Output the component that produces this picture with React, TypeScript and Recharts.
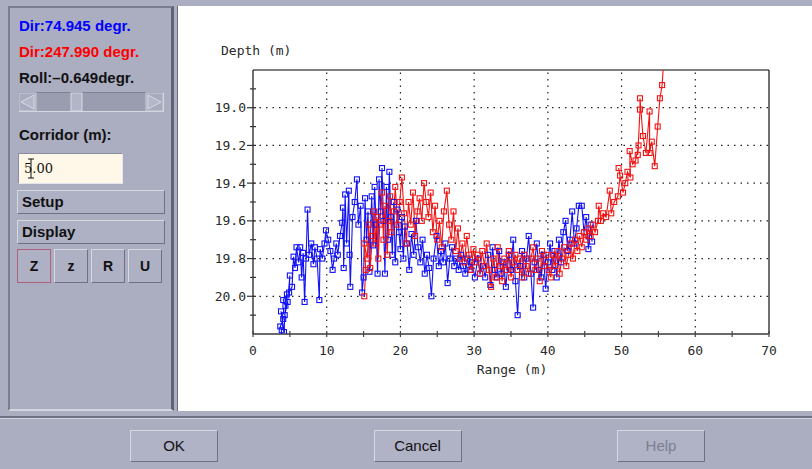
import React from 'react';
import { LineChart, Line, XAxis, YAxis, ReferenceLine } from 'recharts';

// [range (m), depth (m)] pings for each direction
const bluePings: [number, number][] = [
  [3.9,20.18],[3.7,20.16],[4.1,20.12],[3.8,20.08],[4.2,20.19],[4.4,20.05],[4.1,20.02],[4.6,19.99],[4.3,20.1],[4.7,20.03],
  [5.0,19.89],[4.9,19.98],[5.3,19.95],[5.5,19.79],[5.7,19.85],[5.9,19.74],[6.2,19.82],[6.4,19.74],[6.6,19.9],[6.8,19.77],
  [7.0,20.03],[7.2,19.8],[7.4,19.54],[7.6,19.78],[7.9,19.72],[8.2,19.83],[8.4,19.74],[8.7,19.8],[9.0,20.02],[9.1,19.75],
  [9.4,19.8],[9.7,19.72],[9.9,19.65],[10.2,19.7],[10.5,19.76],[10.8,19.86],[11.0,19.8],[11.3,19.72],[11.5,19.78],[11.8,19.68],
  [12.1,19.61],[12.2,19.53],[12.3,19.85],[12.5,19.46],[12.7,19.72],[13.0,19.44],[13.1,19.78],[13.2,19.95],[13.5,19.58],[13.8,19.5],
  [14.1,19.38],[14.3,19.62],[14.6,19.52],[14.8,19.98],[15.0,19.9],[15.2,19.48],[15.4,19.7],[15.6,19.55],[15.8,19.87],[16.1,19.47],
  [16.3,19.73],[16.5,19.42],[16.7,19.62],[16.9,19.88],[17.1,19.38],[17.3,19.55],[17.5,19.32],[17.7,19.6],[17.9,19.88],[18.1,19.42],
  [18.3,19.7],[18.5,19.34],[18.7,19.58],[18.9,19.78],[19.1,19.5],[19.3,19.82],[19.6,19.54],[19.8,19.66],[20.0,19.75],[20.2,19.58],
  [20.4,19.8],[20.6,19.63],[20.9,19.72],[21.2,19.86],[21.5,19.67],[21.8,19.78],[22.1,19.6],[22.4,19.74],[22.7,19.82],[23.0,19.7],
  [23.3,19.88],[23.6,19.78],[23.9,19.85],[24.2,20.0],[24.5,19.8],[24.9,19.68],[25.2,19.84],[25.5,19.76],[25.8,19.82],[26.1,19.72],
  [26.4,19.93],[26.7,19.8],[27.0,19.74],[27.3,19.84],[27.6,19.8],[27.9,19.86],[28.2,19.78],[28.5,19.84],[28.8,19.88],[29.1,19.8],
  [29.4,19.86],[29.7,19.82],[30.1,19.9],[30.5,19.8],[30.8,19.88],[31.2,19.84],[31.5,19.9],[31.9,19.78],[32.2,19.94],[32.5,19.74],
  [32.8,19.86],[33.1,19.9],[33.4,19.76],[33.7,19.88],[34.0,19.82],[34.3,19.95],[34.7,19.78],[35.0,19.86],[35.3,19.7],[35.6,19.92],
  [35.9,20.1],[36.2,19.84],[36.5,19.76],[36.8,19.9],[37.1,19.8],[37.4,19.68],[37.7,19.88],[38.0,20.06],[38.2,19.82],[38.5,19.72],
  [38.8,19.86],[39.1,19.9],[39.4,19.78],[39.7,19.96],[40.0,19.82],[40.3,19.72],[40.6,19.86],[40.9,19.76],[41.2,19.9],[41.5,19.7],
  [41.8,19.82],[42.1,19.66],[42.4,19.6],[42.7,19.76],[43.0,19.7],[43.3,19.55],[43.6,19.72],[43.9,19.64],[44.2,19.52],[44.6,19.52],
  [44.9,19.66],[45.2,19.58],[45.5,19.75],[45.8,19.62],[46.0,19.71],
];

const redPings: [number, number][] = [
  [15.1,20.0],[15.3,19.86],[15.1,19.72],[15.5,19.8],[15.7,19.62],[15.9,19.85],[16.2,19.68],[16.4,19.55],[16.6,19.72],[16.8,19.58],
  [17.0,19.8],[17.2,19.62],[17.5,19.45],[17.7,19.7],[17.9,19.52],[18.2,19.78],[18.4,19.6],[18.6,19.47],[18.8,19.66],[19.1,19.55],
  [19.3,19.42],[19.6,19.62],[19.9,19.5],[20.2,19.37],[20.5,19.56],[20.8,19.72],[21.1,19.5],[21.4,19.62],[21.7,19.45],[22.0,19.68],
  [22.3,19.55],[22.6,19.48],[22.9,19.6],[23.2,19.4],[23.5,19.5],[23.8,19.58],[24.1,19.45],[24.4,19.66],[24.7,19.52],[25.0,19.7],
  [25.3,19.6],[25.6,19.74],[25.9,19.55],[26.3,19.44],[26.6,19.62],[26.9,19.7],[27.2,19.55],[27.5,19.76],[27.8,19.64],[28.1,19.8],
  [28.4,19.72],[28.7,19.82],[29.0,19.68],[29.3,19.78],[29.6,19.86],[29.9,19.75],[30.2,19.82],[30.5,19.78],[30.8,19.88],[31.1,19.76],
  [31.4,19.84],[31.7,19.72],[32.0,19.86],[32.3,19.95],[32.6,19.8],[32.9,19.9],[33.2,19.74],[33.5,19.84],[33.8,19.92],[34.1,19.8],
  [34.4,19.86],[34.7,19.76],[35.0,19.9],[35.3,19.82],[35.6,19.78],[35.9,19.86],[36.2,19.8],[36.5,19.9],[36.8,19.78],[37.1,19.84],
  [37.4,19.88],[37.7,19.8],[38.0,19.74],[38.3,19.86],[38.6,19.8],[38.9,19.92],[39.2,19.76],[39.5,19.84],[39.8,19.78],[40.1,19.86],
  [40.4,19.9],[40.7,19.78],[41.0,19.84],[41.3,19.76],[41.6,19.88],[41.9,19.8],[42.2,19.74],[42.5,19.84],[42.8,19.78],[43.1,19.72],
  [43.4,19.8],[43.7,19.7],[44.0,19.76],[44.3,19.68],[44.6,19.74],[44.9,19.66],[45.2,19.7],[45.5,19.64],[45.8,19.68],[46.1,19.62],
  [46.4,19.66],[46.8,19.6],[46.9,19.52],[47.2,19.6],[47.5,19.56],[47.9,19.58],[48.4,19.44],[48.6,19.56],[49.0,19.5],[49.5,19.47],
  [49.8,19.36],[49.6,19.32],[50.2,19.45],[50.5,19.4],[50.8,19.34],[51.2,19.37],[51.1,19.23],[51.5,19.3],[51.9,19.28],[52.3,19.2],
  [52.2,19.25],[52.5,19.01],[52.5,18.95],[52.9,19.15],[53.3,19.24],[53.8,19.02],[53.8,19.24],[54.1,19.18],[54.5,19.31],[54.9,19.1],
  [55.2,18.95],[55.5,18.88],[55.8,18.7],
];

const xTicks = [0, 5, 10, 15, 20, 25, 30, 35, 40, 45, 50, 55, 60, 65, 70];
const xLabelled = [0, 10, 20, 30, 40, 50, 60, 70];
const yTicks = [18.9, 19.0, 19.1, 19.2, 19.3, 19.4, 19.5, 19.6, 19.7, 19.8, 19.9, 20.0, 20.1];
const yLabelled = ['19.0', '19.2', '19.4', '19.6', '19.8', '20.0'];
const xGrid = [10, 20, 30, 40, 50, 60];
const yGrid = [19.0, 19.2, 19.4, 19.6, 19.8, 20.0];
const xDomain: [number, number] = [0, 70];
const yDomain: [number, number] = [18.8, 20.2];

const blueDir = 'Dir:74.945 degr.';
const redDir = 'Dir:247.990 degr.';
const rollText = 'Roll:\u20130.649degr.';
const corridorLabel = 'Corridor (m):';
const corridorValue = '5.00';
const zoomButtons = ['Z', 'z', 'R', 'U'];
const dialogButtons = ['OK', 'Cancel', 'Help'];

const blueData = bluePings.map(([x, d]) => ({ x, d }));
const redData = redPings.map(([x, d]) => ({ x, d }));

const BLUE = '#1212f5';
const RED = '#f01414';
const GRAY = '#abadc1';
const MONO = '"DejaVu Sans Mono", monospace';
const SANS = '"Liberation Sans", Arial, sans-serif';

const XTick = (props: any) => {
  const { x, y, payload } = props;
  const v = payload.value;
  return (
    <g>
      <line x1={x} x2={x} y1={y - 3} y2={y + 3} stroke="#444" strokeWidth={1.2} />
      {xLabelled.includes(v) && (
        <text x={x} y={y + 21} textAnchor="middle" fontFamily={MONO} fontSize={13} fill="#2a2a2a">
          {v}
        </text>
      )}
    </g>
  );
};

const YTick = (props: any) => {
  const { x, y, payload } = props;
  const s = Number(payload.value).toFixed(1);
  const lab = yLabelled.includes(s);
  return (
    <g>
      <line x1={x - (lab ? 6 : 3)} x2={x + 3} y1={y} y2={y} stroke="#333" strokeWidth={1.2} />
      {lab && (
        <text x={x - 7} y={y + 4.5} textAnchor="end" fontFamily={MONO} fontSize={13} fill="#2a2a2a">
          {s}
        </text>
      )}
    </g>
  );
};

const makeDot = (color: string) => (p: any) => (
  <rect
    key={`d${p.index}`}
    x={p.cx - 2.5}
    y={p.cy - 2.5}
    width={5}
    height={5}
    fill="none"
    stroke={color}
    strokeWidth={1.1}
  />
);

const bevel = (light: string, dark: string) => ({
  borderTop: `1px solid ${light}`,
  borderLeft: `1px solid ${light}`,
  borderRight: `1px solid ${dark}`,
  borderBottom: `1px solid ${dark}`,
});

const abs = (left: number, top: number, width: number, height: number): React.CSSProperties => ({
  position: 'absolute',
  left,
  top,
  width,
  height,
  boxSizing: 'border-box',
});

export default function App() {
  return (
    <div style={{ ...abs(0, 0, 812, 469), background: GRAY, overflow: 'hidden', fontFamily: SANS }}>
      {/* left control panel */}
      <div style={{ ...abs(8, 6, 166, 405), borderTop: '2px solid #7a7d90', borderLeft: '2px solid #7a7d90', borderRight: '3px solid #5f6275', borderBottom: '2px solid #d4d6e0' }} />
      <div style={{ ...abs(19, 17, 160, 18), color: '#0000ff', fontWeight: 'bold', fontSize: 15 }}>{blueDir}</div>
      <div style={{ ...abs(19, 43, 160, 18), color: '#ff0000', fontWeight: 'bold', fontSize: 15 }}>{redDir}</div>
      <div style={{ ...abs(19, 69, 160, 18), color: '#111', fontWeight: 'bold', fontSize: 15 }}>{rollText}</div>
      {/* scrollbar */}
      <div style={{ ...abs(18, 92, 146, 20), background: '#9a9db0', ...bevel('#7f8295', '#d6d8e2') }} />
      <svg style={{ position: 'absolute', left: 18, top: 92 }} width={146} height={20}>
        <rect x={1} y={1} width={17} height={18} fill="#a8abbe" stroke="#cfd1dc" />
        <polygon points="3,10 16,3 16,17" fill="#b4b7c8" stroke="#d8dae4" />
        <rect x={128} y={1} width={17} height={18} fill="#a8abbe" stroke="#cfd1dc" />
        <polygon points="143,10 130,3 130,17" fill="#b4b7c8" stroke="#d8dae4" />
        <rect x={53} y={1} width={11} height={18} fill="#b2b5c6" stroke="#d8dae4" />
      </svg>
      <div style={{ ...abs(19, 126, 160, 18), color: '#111', fontWeight: 'bold', fontSize: 15 }}>{corridorLabel}</div>
      {/* text field */}
      <div style={{ ...abs(18, 153, 105, 31), background: '#fff8e8', ...bevel('#8a8d9f', '#e4e6ee') }} />
      <div style={{ ...abs(24, 161, 60, 16), color: '#111', fontSize: 13, fontFamily: '"DejaVu Serif", serif' }}>{corridorValue}</div>
      <svg style={{ position: 'absolute', left: 27, top: 158 }} width={8} height={22}>
        <line x1={4} x2={4} y1={1} y2={20} stroke="#111" strokeWidth={1} />
        <line x1={1} x2={7} y1={1} y2={1} stroke="#111" strokeWidth={1} />
        <line x1={1} x2={7} y1={20} y2={20} stroke="#111" strokeWidth={1} />
      </svg>
      {/* Setup / Display */}
      {['Setup', 'Display'].map((t, i) => (
        <div key={t} style={{ ...abs(17, 190 + i * 30, 148, 24), background: '#aeb0c4', ...bevel('#d6d8e2', '#6e7184'), color: '#111', fontWeight: 'bold', fontSize: 15, paddingLeft: 4, lineHeight: '22px' }}>
          {t}
        </div>
      ))}
      {zoomButtons.map((t, i) => (
        <div key={t + i} style={{ ...abs(17 + i * 37, 249, 34, 34), background: '#aeb0c4', ...(i === 0 ? { border: '1px solid #b0607a' } : bevel('#d6d8e2', '#6e7184')), color: '#111', fontWeight: 'bold', fontSize: 14, textAlign: 'center', lineHeight: '32px' }}>
          {t}
        </div>
      ))}

      {/* chart area */}
      <div style={{ ...abs(177, 6, 635, 405), background: '#ffffff', borderLeft: '1px solid #6a6d80' }}>
        <div style={{ position: 'absolute', left: 43, top: 37, fontFamily: MONO, fontSize: 13, color: '#2a2a2a', whiteSpace: 'nowrap' }}>Depth (m)</div>
        <div style={{ position: 'absolute', left: 334, top: 356, width: 0, fontFamily: MONO, fontSize: 13, color: '#2a2a2a', whiteSpace: 'nowrap' }}>
          <span style={{ position: 'absolute', transform: 'translateX(-50%)' }}>Range (m)</span>
        </div>
        <LineChart width={634} height={404} margin={{ top: 64, right: 43, bottom: 46, left: 0 }}>
          <XAxis
            type="number"
            dataKey="x"
            domain={xDomain}
            ticks={xTicks}
            allowDataOverflow
            tickSize={0}
            tickMargin={0}
            tickLine={false}
            tick={<XTick />}
            height={30}
            axisLine={{ stroke: '#6a6a6a', strokeWidth: 2 }}
            interval={0}
          />
          <YAxis
            type="number"
            dataKey="d"
            domain={yDomain}
            ticks={yTicks}
            reversed
            allowDataOverflow
            tickSize={0}
            tickMargin={0}
            tickLine={false}
            tick={<YTick />}
            width={75}
            axisLine={{ stroke: '#111', strokeWidth: 1.2 }}
            interval={0}
          />
          {xGrid.map((v) => (
            <ReferenceLine key={`gx${v}`} x={v} stroke="#222" strokeDasharray="1.5 5" strokeWidth={1.2} />
          ))}
          {yGrid.map((v) => (
            <ReferenceLine key={`gy${v}`} y={v} stroke="#222" strokeDasharray="1.5 5" strokeWidth={1.2} />
          ))}
          <ReferenceLine y={18.8} stroke="#555" strokeWidth={1.5} />
          <ReferenceLine x={70} stroke="#111" strokeWidth={1.2} />
          <Line data={blueData} dataKey="d" type="linear" stroke={BLUE} strokeWidth={1.1} dot={makeDot(BLUE)} isAnimationActive={false} />
          <Line data={redData} dataKey="d" type="linear" stroke={RED} strokeWidth={1.1} dot={makeDot(RED)} isAnimationActive={false} />
        </LineChart>
      </div>

      {/* bottom button bar */}
      <div style={{ ...abs(0, 416, 812, 53), borderTop: '2px solid #6e7184', background: GRAY }} />
      <div style={{ ...abs(0, 418, 812, 1), background: '#d4d6e0' }} />
      {dialogButtons.map((t, i) => (
        <div
          key={t}
          style={{
            ...abs(130 + i * 243.5, 430, 88, 32),
            background: '#b0b2c6',
            ...bevel('#d6d8e2', '#6e7184'),
            color: t === 'Help' ? '#7c7f92' : '#111',
            fontFamily: '"Liberation Sans Narrow", "Liberation Sans", sans-serif',
            fontSize: 15,
            textAlign: 'center',
            lineHeight: '30px',
          }}
        >
          {t}
        </div>
      ))}
    </div>
  );
}
